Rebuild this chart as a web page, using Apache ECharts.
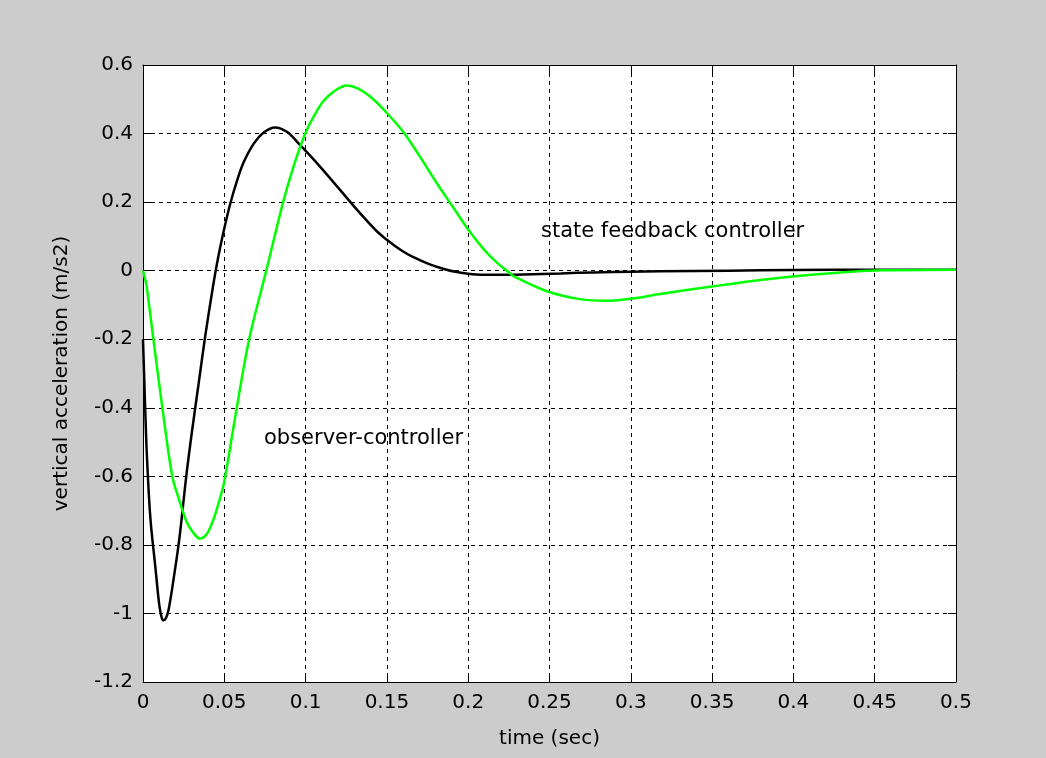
<!DOCTYPE html>
<html>
<head>
<meta charset="utf-8">
<script src="https://cdn.jsdelivr.net/npm/echarts@6/dist/echarts.min.js"></script>
<style>
html,body{margin:0;padding:0;background:#cccccc;}
#chart{width:1046px;height:758px;}
</style>
</head>
<body>
<div id="chart"></div>
<script>
// Black curve (t, value)
var blackT = [0, 0.0008, 0.0016, 0.0025, 0.0045, 0.0076, 0.0100, 0.0115, 0.0127, 0.014, 0.0157, 0.0188, 0.0224, 0.0266, 0.0301, 0.0342, 0.0383, 0.0424, 0.0444, 0.0465, 0.0496, 0.0537, 0.0578, 0.0619, 0.068, 0.0742, 0.0813, 0.0885, 0.0967, 0.109, 0.1213, 0.1336, 0.1438, 0.15, 0.155, 0.16, 0.166, 0.176, 0.185, 0.193, 0.205, 0.22, 0.234, 0.257, 0.277, 0.3, 0.318, 0.36, 0.4, 0.45, 0.5];
var blackV = [-0.2, -0.32, -0.44, -0.55, -0.72, -0.865, -0.975, -1.012, -1.02, -1.015, -0.99, -0.9, -0.78, -0.6, -0.47, -0.33, -0.19, -0.065, -0.008, 0.045, 0.115, 0.196, 0.262, 0.316, 0.37, 0.403, 0.418, 0.405, 0.366, 0.303, 0.235, 0.167, 0.115, 0.09, 0.072, 0.056, 0.04, 0.019, 0.005, -0.004, -0.011, -0.012, -0.011, -0.008, -0.005, -0.003, -0.002, 0.0, 0.002, 0.003, 0.003];
// Green curve (t, value)
var greenT = [0, 0.002, 0.004, 0.0064, 0.0119, 0.018, 0.022, 0.027, 0.031, 0.035, 0.039, 0.043, 0.047, 0.05, 0.0573, 0.0653, 0.0758, 0.0862, 0.093, 0.0998, 0.105, 0.111, 0.118, 0.1254, 0.132, 0.1397, 0.15, 0.16, 0.17, 0.18, 0.19, 0.2, 0.21, 0.218, 0.2258, 0.2278, 0.2483, 0.2688, 0.285, 0.3057, 0.318, 0.3487, 0.375, 0.4, 0.4286, 0.455, 0.5];
var greenV = [0, -0.04, -0.11, -0.2, -0.4, -0.6, -0.665, -0.735, -0.765, -0.782, -0.77, -0.73, -0.67, -0.615, -0.41, -0.2, 0.0, 0.2, 0.31, 0.4, 0.45, 0.495, 0.525, 0.54, 0.532, 0.508, 0.46, 0.405, 0.335, 0.26, 0.19, 0.12, 0.06, 0.022, -0.008, -0.016, -0.06, -0.083, -0.088, -0.078, -0.068, -0.047, -0.03, -0.017, -0.005, 0.001, 0.003];

var xLabel = 'time (sec)';
var yLabel = 'vertical acceleration (m/s2)';
var noteState = 'state feedback controller';
var noteObserver = 'observer-controller';

function pairs(t, v) { return t.map(function (x, i) { return [x, v[i]]; }); }

var font = 'DejaVu Sans';
var chart = echarts.init(document.getElementById('chart'));
var tickCommon = { show: true, inside: true, length: 8, lineStyle: { color: '#000', width: 1 } };
var lineCommon = { show: true, onZero: false, lineStyle: { color: '#000', width: 1 } };
chart.setOption({
  backgroundColor: '#cccccc',
  animation: false,
  grid: { left: 143, right: 90, top: 65, bottom: 76, show: true, backgroundColor: '#ffffff', borderWidth: 0 },
  xAxis: [{
    type: 'value', min: 0, max: 0.5, interval: 0.05,
    name: xLabel, nameLocation: 'middle', nameGap: 47,
    nameTextStyle: { fontFamily: font, fontSize: 20, color: '#000' },
    axisLine: lineCommon, axisTick: tickCommon,
    axisLabel: { fontFamily: font, fontSize: 20, color: '#000', margin: 11 },
    splitLine: { show: true, lineStyle: { color: '#000', type: [4, 4], width: 1 } }
  }, {
    type: 'value', min: 0, max: 0.5, interval: 0.05, position: 'top',
    axisLine: lineCommon, axisTick: tickCommon, axisLabel: { show: false }, splitLine: { show: false }
  }],
  yAxis: [{
    type: 'value', min: -1.2, max: 0.6, interval: 0.2,
    name: yLabel, nameLocation: 'middle', nameGap: 71, nameRotate: 90,
    nameTextStyle: { fontFamily: font, fontSize: 20, color: '#000' },
    axisLine: lineCommon, axisTick: tickCommon,
    axisLabel: { fontFamily: font, fontSize: 20, color: '#000', margin: 10 },
    splitLine: { show: true, lineStyle: { color: '#000', type: [4, 4], width: 1 } }
  }, {
    type: 'value', min: -1.2, max: 0.6, interval: 0.2, position: 'right',
    axisLine: lineCommon, axisTick: tickCommon, axisLabel: { show: false }, splitLine: { show: false }
  }],
  series: [{
    type: 'line', data: pairs(blackT, blackV), showSymbol: false, smooth: 0.35,
    lineStyle: { color: '#000000', width: 2.5 }, z: 3
  }, {
    type: 'line', data: pairs(greenT, greenV), showSymbol: false, smooth: 0.35,
    lineStyle: { color: '#00ff00', width: 2.5 }, z: 4
  }],
  graphic: [{
    type: 'text', left: 541, top: 221, z: 10,
    style: { text: noteState, fontFamily: font, fontSize: 21, fill: '#000' }
  }, {
    type: 'text', left: 264, top: 428, z: 10,
    style: { text: noteObserver, fontFamily: font, fontSize: 21, fill: '#000' }
  }]
});
</script>
</body>
</html>
